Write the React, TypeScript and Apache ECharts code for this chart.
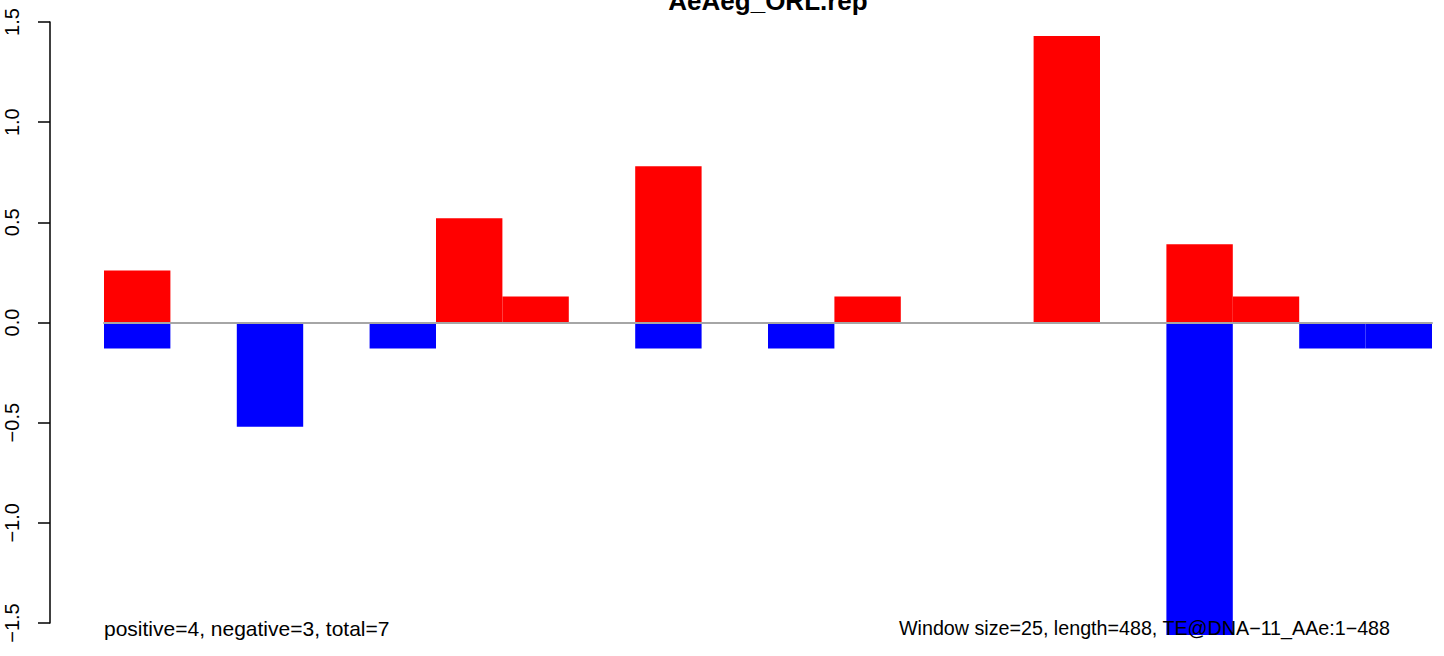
import React, { useEffect, useRef } from "react";
import * as echarts from "echarts";

const categories = ["1","2","3","4","5","6","7","8","9","10","11","12","13","14","15","16","17","18","19","20"];
const positiveValues = [0.26, null, null, null, null, 0.52, 0.13, null, 0.78, null, null, 0.13, null, null, 1.43, null, 0.39, 0.13, null, null];
const negativeValues = [-0.13, null, -0.52, null, -0.13, null, null, null, -0.13, null, -0.13, null, null, null, null, null, -1.56, null, -0.13, -0.13];
const yTicks = { min: -1.5, max: 1.5, interval: 0.5 };
const titleText = "AeAeg_ORL.rep";
const leftNote = "positive=4, negative=3, total=7";
const rightNote = "Window size=25, length=488, TE@DNA\u221211_AAe:1\u2212488";

const FONT = "'Liberation Sans', Arial, Helvetica, sans-serif";

export default function App() {
  const ref = useRef<HTMLDivElement>(null);
  useEffect(() => {
    if (!ref.current) return;
    const chart = echarts.init(ref.current, null, { renderer: "svg" });
    chart.setOption({
      animation: false,
      backgroundColor: "#ffffff",
      grid: { left: 104, right: 12, top: 22, bottom: 33, containLabel: false },
      xAxis: {
        type: "category",
        data: categories,
        boundaryGap: true,
        axisLine: { show: true, onZero: true, lineStyle: { color: "#a6a6a6", width: 2 } },
        axisTick: { show: false },
        axisLabel: { show: false },
        splitLine: { show: false },
        z: 5,
      },
      yAxis: {
        type: "value",
        min: yTicks.min,
        max: yTicks.max,
        interval: yTicks.interval,
        offset: 54,
        axisLine: { show: true, lineStyle: { color: "#000", width: 1.5 } },
        axisTick: { show: true, length: 12, lineStyle: { color: "#000", width: 1.5 } },
        splitLine: { show: false },
        axisLabel: {
          rotate: 90,
          margin: 28,
          fontSize: 20,
          color: "#000",
          fontFamily: FONT,
          formatter: (v: number) => v.toFixed(1).replace("-", "\u2212"),
        },
      },
      series: [
        {
          type: "bar",
          data: positiveValues,
          barCategoryGap: "0%",
          barGap: "-100%",
          clip: false,
          itemStyle: { color: "#ff0000" },
          z: 2,
        },
        {
          type: "bar",
          data: negativeValues,
          barCategoryGap: "0%",
          barGap: "-100%",
          clip: false,
          itemStyle: { color: "#0000ff" },
          z: 2,
        },
      ],
      graphic: [
        {
          type: "text",
          x: 768,
          y: 1,
          z: 100,
          style: { text: titleText, fontSize: 26, fontWeight: "bold", fontFamily: FONT, fill: "#000", textAlign: "center", textVerticalAlign: "middle" },
        },
        {
          type: "text",
          x: 104,
          y: 628,
          z: 100,
          style: { text: leftNote, fontSize: 21, fontFamily: FONT, fill: "#000", textAlign: "left", textVerticalAlign: "middle" },
        },
        {
          type: "text",
          x: 1390,
          y: 628,
          z: 100,
          style: { text: rightNote, fontSize: 19.7, fontFamily: FONT, fill: "#000", textAlign: "right", textVerticalAlign: "middle" },
        },
      ],
    });
    return () => chart.dispose();
  }, []);
  return <div ref={ref} style={{ position: "fixed", left: 0, top: 0, width: 1444, height: 656 }} />;
}
